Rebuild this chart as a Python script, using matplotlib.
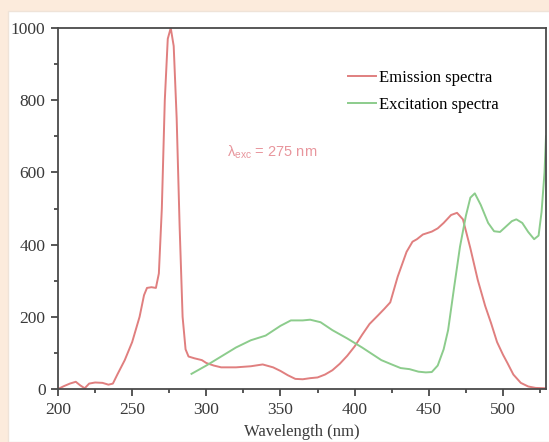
import matplotlib
matplotlib.use("Agg")
import matplotlib.pyplot as plt
from matplotlib.patches import Rectangle
from matplotlib.ticker import MultipleLocator

plt.rcParams['font.family'] = ['Liberation Serif', 'DejaVu Serif']

# emission spectrum (red)
em_x = [200, 204, 208, 212, 215, 218, 221, 225, 230, 234, 237, 240, 245, 250, 255, 258, 260,
        263, 266, 268, 270, 272, 274, 276, 278, 280, 282, 284, 286, 288, 292, 297, 300, 305,
        310, 320, 330, 338, 345, 350, 355, 360, 365, 370, 375, 380, 385, 390, 395, 400, 405,
        410, 416, 420, 424, 429, 435, 439, 442, 446, 452, 456, 460, 465, 469, 473, 478, 483,
        488, 492, 496, 500, 503, 507, 512, 517, 522, 529]
em_y = [0, 8, 15, 20, 10, 2, 15, 18, 17, 12, 15, 40, 80, 130, 200, 260, 280, 282, 280, 320,
        500, 800, 970, 1000, 950, 750, 450, 200, 110, 90, 85, 80, 72, 65, 60, 60, 63, 68, 60,
        50, 38, 28, 27, 30, 32, 40, 52, 70, 92, 118, 150, 180, 205, 222, 240, 311, 380, 408,
        415, 428, 436, 445, 460, 482, 488, 470, 390, 302, 230, 182, 130, 95, 72, 40, 17, 7, 3, 2]

# excitation spectrum (green)
ex_x = [290, 300, 310, 320, 330, 340, 350, 357, 365, 370, 377, 385, 395, 405, 418, 425, 431,
        437, 443, 448, 452, 456, 460, 463, 467, 471, 475, 478, 481, 485, 490, 494, 498, 502,
        506, 509, 513, 517, 521, 524, 526, 528, 529]
ex_y = [42, 65, 90, 115, 135, 148, 175, 190, 190, 192, 185, 163, 140, 115, 80, 68, 58, 55,
        48, 46, 47, 65, 110, 163, 280, 394, 480, 530, 542, 510, 460, 437, 435, 450, 465, 470,
        460, 435, 415, 425, 490, 600, 700]

fig = plt.figure(figsize=(5.49, 4.42), dpi=100)
fig.patch.set_facecolor('#fcebdc')
panel = Rectangle((8 / 549, 0), 1, (442 - 11) / 442, transform=fig.transFigure,
                  facecolor='white', edgecolor='#efe3d8', linewidth=1, zorder=0)
fig.add_artist(panel)

ax = fig.add_axes([58 / 549, 1 - 389 / 442, (546 - 58) / 549, (389 - 28) / 442])
ax.set_zorder(2)
ax.set_facecolor('white')

ax.plot(em_x, em_y, color='#e07f7f', lw=1.4, label='Emission spectra')
ax.plot(ex_x, ex_y, color='#8ccc8c', lw=1.4, label='Excitation spectra')

ax.set_xlim(200, 529)
ax.set_ylim(0, 1000)
ax.xaxis.set_major_locator(MultipleLocator(50))
ax.xaxis.set_minor_locator(MultipleLocator(25))
ax.yaxis.set_major_locator(MultipleLocator(200))
ax.yaxis.set_minor_locator(MultipleLocator(100))
ax.tick_params(which='major', direction='out', length=5, width=1.2, labelsize=12.5,
               colors='#3a3a3a', pad=4)
ax.tick_params(which='minor', direction='out', length=3, width=1.2, colors='#3a3a3a')
for s in ax.spines.values():
    s.set_color('#4a4a4a')
    s.set_linewidth(1.3)

ax.set_xlabel('Wavelength (nm)', fontsize=12, color='#3a3a3a', labelpad=5)

ax.text(314, 657, 'λ$_{\\mathregular{exc}}$ = 275 nm', color='#e8959c', fontsize=10.5,
        va='center', ha='left', family=['Liberation Sans', 'DejaVu Sans'])

ax.legend(loc='upper left', bbox_to_anchor=(0.595, 0.885), frameon=False, fontsize=12,
          handlelength=1.65, handletextpad=0.2, labelspacing=0.68, borderpad=0,
          borderaxespad=0)

fig.savefig('out.png', dpi=100, facecolor=fig.get_facecolor())
